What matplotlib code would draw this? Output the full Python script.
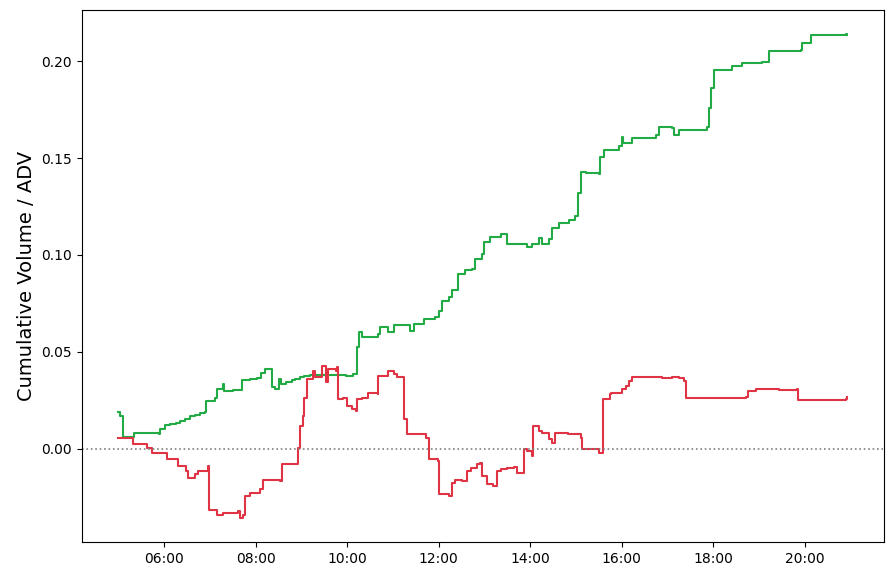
import matplotlib
matplotlib.use('Agg')
import matplotlib.pyplot as plt
import matplotlib.dates as mdates
import pandas as pd

day = '2024-01-02 '

# buy side (green) cumulative volume / ADV
buy_times = ['05:00', '05:02', '05:06', '05:21', '05:53', '05:54', '06:01', '06:08',
             '06:15', '06:21', '06:27', '06:34', '06:40', '06:47', '06:54', '06:55',
             '07:07', '07:09', '07:17', '07:18', '07:30', '07:42', '07:52', '08:02',
             '08:07', '08:12', '08:19', '08:21', '08:25', '08:31', '08:33', '08:40',
             '08:47', '08:52', '08:58', '09:04', '09:11', '09:59', '10:07', '10:13',
             '10:16', '10:20', '10:40', '10:43', '10:53', '11:02', '11:22', '11:28',
             '11:41', '11:55', '12:01', '12:04', '12:14', '12:18', '12:25', '12:34',
             '12:44', '12:47', '12:57', '13:00', '13:07', '13:22', '13:30', '13:56',
             '14:03', '14:12', '14:16', '14:25', '14:29', '14:38', '14:51', '14:59',
             '15:03', '15:07', '15:13', '15:30', '15:32', '15:37', '15:57', '16:01',
             '16:02', '16:14', '16:45', '16:49', '17:06', '17:09', '17:15', '17:35',
             '17:52', '17:55', '17:57', '18:01', '18:25', '18:38', '19:04', '19:13',
             '19:55', '19:57', '20:08', '20:54', '20:56']
buy_vals = [0.0187, 0.0170, 0.0062, 0.0083, 0.0076, 0.0102, 0.0123, 0.0128,
            0.0135, 0.0143, 0.0155, 0.0170, 0.0176, 0.0182, 0.0187, 0.0247,
            0.0264, 0.0310, 0.0335, 0.0300, 0.0303, 0.0356, 0.0358, 0.0363,
            0.0390, 0.0413, 0.0413, 0.0316, 0.0310, 0.0360, 0.0335, 0.0345,
            0.0355, 0.0360, 0.0368, 0.0375, 0.0380, 0.0377, 0.0387, 0.0523,
            0.0600, 0.0575, 0.0594, 0.0627, 0.0600, 0.0636, 0.0610, 0.0646,
            0.0672, 0.0679, 0.0713, 0.0765, 0.0782, 0.0817, 0.0904, 0.0920,
            0.0930, 0.0980, 0.1007, 0.1067, 0.1093, 0.1110, 0.1059, 0.1041,
            0.1059, 0.1090, 0.1059, 0.1085, 0.1137, 0.1163, 0.1180, 0.1200,
            0.1318, 0.1430, 0.1423, 0.1418, 0.1508, 0.1542, 0.1560, 0.1611,
            0.1577, 0.1603, 0.1620, 0.1663, 0.1655, 0.1620, 0.1646, 0.1646,
            0.1663, 0.1759, 0.1862, 0.1957, 0.1974, 0.1992, 0.1995, 0.2052,
            0.2057, 0.2092, 0.2133, 0.2138, 0.2135]

# sell side (red) cumulative volume / ADV
sell_times = ['05:00', '05:19', '05:35', '05:38', '05:44', '06:04', '06:18', '06:28',
              '06:31', '06:41', '06:44', '06:58', '06:59', '07:09', '07:17', '07:37',
              '07:40', '07:43', '07:46', '07:53', '08:06', '08:10', '08:32', '08:34',
              '08:54', '08:55', '08:58', '09:02', '09:04', '09:07', '09:15', '09:18',
              '09:24', '09:27', '09:32', '09:35', '09:45', '09:46', '09:48', '09:54',
              '10:00', '10:06', '10:11', '10:13', '10:20', '10:27', '10:40', '10:41',
              '10:53', '11:02', '11:05', '11:15', '11:18', '11:41', '11:44', '11:47',
              '11:59', '12:00', '12:14', '12:17', '12:21', '12:30', '12:37', '12:43',
              '12:50', '12:54', '12:57', '13:03', '13:11', '13:16', '13:22', '13:29',
              '13:39', '13:43', '13:52', '13:56', '14:03', '14:04', '14:12', '14:16',
              '14:25', '14:29', '14:32', '14:49', '15:07', '15:08', '15:30', '15:36',
              '15:44', '15:46', '16:01', '16:06', '16:10', '16:14', '16:36', '16:53',
              '17:06', '17:15', '17:22', '17:24', '18:43', '18:46', '18:56', '19:26',
              '19:50', '19:51', '20:33', '20:54', '20:56']
sell_vals = [0.0057, 0.0023, 0.0023, 0.0005, -0.0020, -0.0055, -0.0090, -0.0116,
             -0.0150, -0.0133, -0.0116, -0.0090, -0.0314, -0.0340, -0.0332, -0.0323,
             -0.0357, -0.0340, -0.0245, -0.0228, -0.0210, -0.0159, -0.0167, -0.0081,
             -0.0081, 0.0005, 0.0118, 0.0170, 0.0260, 0.0360, 0.0403, 0.0368,
             0.0368, 0.0429, 0.0342, 0.0411, 0.0403, 0.0420, 0.0256, 0.0264,
             0.0221, 0.0204, 0.0195, 0.0256, 0.0264, 0.0290, 0.0282, 0.0377,
             0.0403, 0.0385, 0.0371, 0.0152, 0.0075, 0.0075, 0.0057, -0.0055,
             -0.0064, -0.0236, -0.0245, -0.0176, -0.0159, -0.0167, -0.0115, -0.0098,
             -0.0081, -0.0072, -0.0141, -0.0184, -0.0193, -0.0115, -0.0107, -0.0098,
             -0.0095, -0.0124, -0.0003, -0.0012, -0.0038, 0.0118, 0.0092, 0.0083,
             0.0049, 0.0031, 0.0083, 0.0075, 0.0057, -0.0003, -0.0020, 0.0256,
             0.0282, 0.0290, 0.0308, 0.0325, 0.0351, 0.0368, 0.0371, 0.0363,
             0.0371, 0.0367, 0.0350, 0.0261, 0.0268, 0.0299, 0.0308, 0.0303,
             0.0308, 0.0251, 0.0254, 0.0256, 0.0268]

buy_t = pd.to_datetime([day + t for t in buy_times])
sell_t = pd.to_datetime([day + t for t in sell_times])

fig, ax = plt.subplots(figsize=(8.91, 5.73), dpi=100)
fig.subplots_adjust(left=0.092, right=0.992, top=0.982, bottom=0.054)

ax.plot(buy_t, buy_vals, drawstyle='steps-post', color='#22aa44', linewidth=1.5)
ax.plot(sell_t, sell_vals, drawstyle='steps-post', color='#e03444', linewidth=1.5)
ax.axhline(0, color='gray', linestyle=':', linewidth=1.2)

ax.set_ylabel('Cumulative Volume / ADV', fontsize=14)
ax.xaxis.set_major_locator(mdates.HourLocator(byhour=range(0, 24, 2)))
ax.xaxis.set_major_formatter(mdates.DateFormatter('%H:%M'))

fig.savefig('out.png', dpi=100)
